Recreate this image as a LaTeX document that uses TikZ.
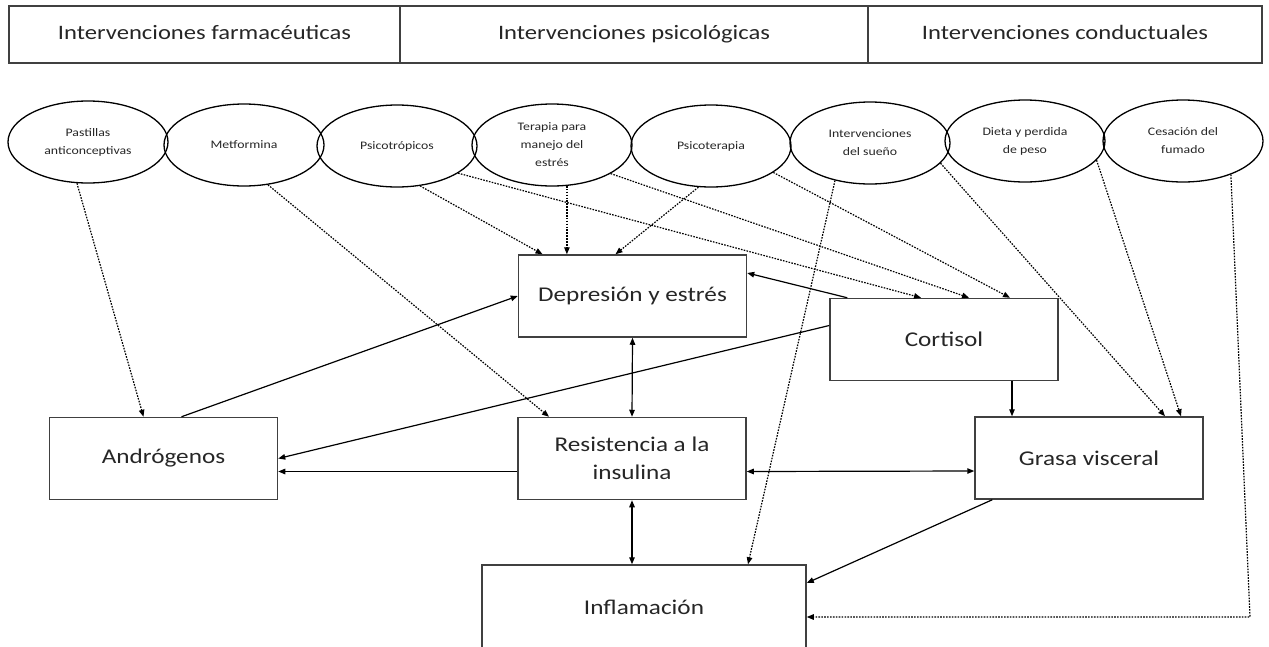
\documentclass[tikz,border=0pt]{standalone}
\usepackage{fontspec}
\setmainfont{Carlito}[FakeStretch=1.2]
\usetikzlibrary{arrows.meta,positioning,shapes.geometric}
\definecolor{boxline}{RGB}{64,64,64}
\definecolor{ink}{RGB}{38,38,38}

\begin{document}
\begin{tikzpicture}[x=1pt, y=-1pt,
  >={Triangle[length=7pt,width=5.5pt]},
  head/.style={draw=boxline, line width=1.4pt, minimum height=57pt, inner sep=0pt, text height=14pt, text depth=4pt, text=ink, font=\fontsize{20.5}{24}\selectfont},
  interv/.style={draw, ellipse, line width=1.3pt, minimum width=160pt, minimum height=82pt, inner sep=0pt, align=center, text=ink, font=\fontsize{11.5}{18}\selectfont},
  factor/.style={draw=boxline, line width=1.5pt, minimum width=228pt, minimum height=82pt, align=center, text=ink, font=\fontsize{21}{28}\selectfont},
  link/.style={->, line width=1.2pt, black},
  effect/.style={->, line width=1.2pt, dash pattern=on 1.6pt off 1.3pt}]
\useasboundingbox (0,0) rectangle (1269,646);
\node[head, minimum width=391pt] (farma) at (204.5,34.5) {Intervenciones farmacéuticas};
\node[head, minimum width=468pt] (psico) at (634,34.5) {Intervenciones psicológicas};
\node[head, minimum width=394pt] (conduc) at (1065,34.5) {Intervenciones conductuales};
\node[interv] (pastillas) at (88,142) {Pastillas\\anticonceptivas};
\node[interv] (metformina) at (244,145) {Metformina};
\node[interv] (psicotrop) at (397,146) {Psicotrópicos};
\node[interv] (terapia) at (552,145) {Terapia para\\manejo del\\estrés};
\node[interv] (psicoterapia) at (711,146) {Psicoterapia};
\node[interv] (sueno) at (870,143) {Intervenciones\\del sueño};
\node[interv] (dieta) at (1025,141) {Dieta y perdida\\de peso};
\node[interv] (fumado) at (1183,141) {Cesación del\\fumado};
\node[factor] (depresion) at (632.5,296) {Depresión y estrés};
\node[factor] (cortisol) at (944,339.5) {Cortisol};
\node[factor] (androgenos) at (163.5,458.5) {Andrógenos};
\node[factor] (resistencia) at (632,458.5) {Resistencia a la\\insulina};
\node[factor] (grasa) at (1089,458) {Grasa visceral};
\node[factor, minimum width=324pt, minimum height=84pt] (inflamacion) at (644,607) {Inflamación};
\draw[effect] (pastillas.-105) -- ([xshift=-20pt]androgenos.north);
\draw[effect] (metformina.-59) -- ([xshift=-83pt]resistencia.north);
\draw[effect] (psicotrop.-60) -- ([xshift=-90pt]depresion.north);
\draw[effect] (psicotrop.-24) -- ([xshift=-23pt]cortisol.north);
\draw[effect] (terapia.-70) -- (terapia.-70 |- depresion.north);
\draw[effect] (terapia.-26) -- ([xshift=25pt]cortisol.north);
\draw[effect] (psicoterapia.-107) -- ([xshift=-17pt]depresion.north);
\draw[effect] (psicoterapia.-23) -- ([xshift=66pt]cortisol.north);
\draw[effect] (sueno.-133) -- ([xshift=104pt]inflamacion.north);
\draw[effect] (sueno.-16) -- ([xshift=76pt]grasa.north);
\draw[effect] (dieta.-15) -- ([xshift=92pt]grasa.north);
\coordinate (esquina) at (1250,617);
\draw[effect] (fumado.-35) -- (esquina) -- ([yshift=-10pt]inflamacion.east);
\draw[link] ([xshift=18pt]androgenos.north) -- (depresion.west);
\draw[link] ([xshift=18pt]cortisol.north west) -- ([yshift=23pt]depresion.east);
\draw[link] ([yshift=14pt]cortisol.west) -- (androgenos.east);
\draw[link] ([yshift=-13pt]resistencia.west) -- ([yshift=-13pt]androgenos.east);
\draw[link, <->] (depresion.south) -- (resistencia.north);
\draw[link] ([xshift=68pt]cortisol.south) -- ([xshift=-77pt]grasa.north);
\draw[link, <->] ([yshift=-13pt]resistencia.east) -- ([yshift=-13pt]grasa.west);
\draw[link, <->] (resistencia.south) -- (resistencia.south |- inflamacion.north);
\draw[link] ([xshift=18pt]grasa.south west) -- ([yshift=24pt]inflamacion.east);
\end{tikzpicture}
\end{document}
